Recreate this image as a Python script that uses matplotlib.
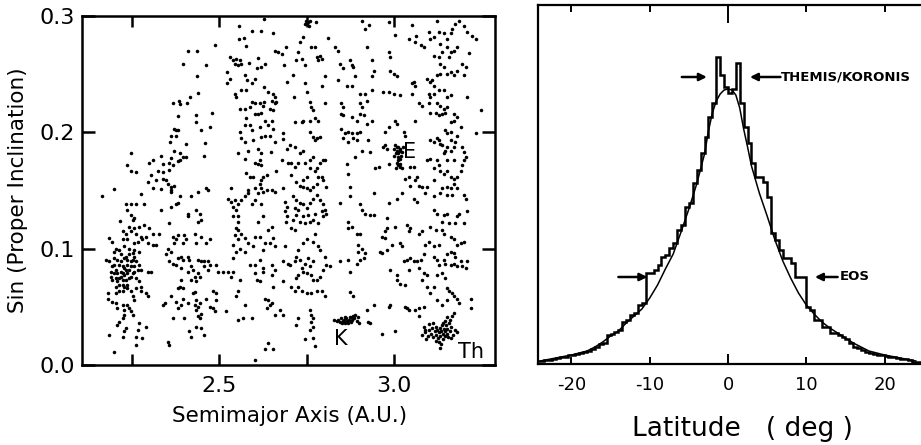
import numpy as np
import matplotlib
matplotlib.use("Agg")
import matplotlib.pyplot as plt

plt.rcParams['font.family'] = ['DejaVu Sans']

# ---------------- data: left panel (semimajor axis, sin i) ----------------
field_upper_inner = [
(2.628,0.297),(2.556,0.291),(2.592,0.287),(2.620,0.287),(2.654,0.285),(2.569,0.281),(2.556,0.280),
(2.488,0.275),(2.577,0.274),(2.435,0.270),(2.411,0.270),(2.659,0.270),(2.668,0.269),(2.678,0.267),
(2.689,0.273),(2.531,0.265),(2.539,0.262),(2.548,0.263),(2.544,0.259),(2.553,0.258),(2.563,0.259),
(2.558,0.262),(2.609,0.264),(2.585,0.260),(2.630,0.259),(2.620,0.256),(2.606,0.255),(2.395,0.259),
(2.463,0.258),(2.684,0.258),(2.522,0.252),(2.436,0.248),(2.572,0.249),(2.579,0.245),(2.592,0.242),
(2.601,0.246),(2.522,0.242),(2.529,0.246),(2.628,0.239),(2.692,0.243),(2.639,0.235),(2.654,0.233),
(2.659,0.230),(2.663,0.226),(2.544,0.233),(2.548,0.230),(2.563,0.236),(2.577,0.236),(2.440,0.234),
(2.417,0.230),(2.408,0.225),(2.366,0.225),(2.383,0.227),(2.386,0.224),(2.594,0.226),(2.601,0.225),
(2.616,0.225),(2.628,0.226),(2.625,0.223),(2.649,0.227),(2.659,0.225),(2.558,0.220),(2.572,0.220),
(2.587,0.222),(2.611,0.216),(2.620,0.217),(2.644,0.220),(2.654,0.219),(2.601,0.216),(2.381,0.214),
(2.434,0.215),(2.479,0.217),(2.434,0.209),(2.577,0.212),(2.587,0.206),(2.572,0.206),(2.630,0.210),
(2.649,0.210),(2.639,0.206),(2.654,0.203),(2.371,0.203),(2.376,0.202),(2.381,0.202),(2.448,0.202),
(2.472,0.205),(2.558,0.200),(2.592,0.202),(2.616,0.205),(2.630,0.197),(2.644,0.197),(2.683,0.199),
(2.362,0.197),(2.376,0.197),(2.620,0.196),(2.596,0.193),(2.572,0.192),(2.563,0.195),(2.659,0.192),
(2.683,0.194),(2.360,0.192),(2.405,0.190),(2.459,0.191),(2.553,0.182),(2.582,0.184),(2.611,0.186),
(2.620,0.182),(2.616,0.176),(2.620,0.172),(2.647,0.183),(2.692,0.186),(2.247,0.182),(2.371,0.184),
(2.386,0.182),(2.395,0.179),(2.405,0.179),(2.362,0.178),(2.333,0.180),(2.457,0.180),(2.572,0.177),
(2.601,0.174),(2.611,0.173),(2.678,0.176),(2.697,0.174),(2.237,0.172),(2.299,0.174),(2.309,0.176),
(2.338,0.173),(2.357,0.174),(2.381,0.175),(2.386,0.176),(2.247,0.167),(2.261,0.166),(2.323,0.167),
(2.338,0.166),(2.357,0.168),(2.366,0.172),(2.663,0.167),(2.577,0.165),(2.587,0.162),(2.596,0.162),
(2.625,0.162),(2.635,0.163),(2.620,0.159),(2.304,0.163),(2.319,0.159),(2.338,0.160),(2.347,0.159),
(2.352,0.156),(2.362,0.153),(2.371,0.154),(2.295,0.157),(2.199,0.151),(2.309,0.152),(2.333,0.151),
(2.362,0.150),(2.462,0.152),(2.467,0.150),(2.534,0.152),(2.582,0.150),(2.601,0.152),(2.620,0.152),
(2.635,0.150),(2.649,0.150),(2.683,0.152),(2.616,0.156),
]

field_upper_outer = [
(2.747,0.296),(2.754,0.295),(2.751,0.293),(2.757,0.291),(2.744,0.293),(2.758,0.296),(2.776,0.295),
(2.907,0.296),(2.917,0.289),(2.928,0.292),(2.984,0.295),(3.003,0.284),(3.051,0.292),(3.043,0.280),
(3.063,0.283),(3.060,0.278),(3.075,0.275),(3.084,0.273),(3.099,0.286),(3.103,0.280),(3.113,0.282),
(3.123,0.296),(3.127,0.286),(3.142,0.285),(3.151,0.280),(3.161,0.285),(3.166,0.289),(3.175,0.293),
(3.185,0.296),(3.199,0.291),(3.209,0.286),(3.223,0.283),(3.233,0.280),(3.180,0.273),(3.151,0.273),
(3.132,0.276),(3.170,0.270),(2.739,0.282),(2.730,0.278),(2.811,0.281),(2.830,0.273),(2.840,0.270),
(2.773,0.273),(2.763,0.273),(2.725,0.269),(2.720,0.262),(2.735,0.263),(2.744,0.258),(2.778,0.265),
(2.787,0.266),(2.782,0.262),(2.792,0.263),(2.845,0.259),(2.854,0.255),(2.873,0.262),(2.878,0.258),
(2.883,0.256),(2.921,0.273),(2.936,0.262),(2.984,0.269),(2.988,0.265),(2.988,0.253),(2.998,0.250),
(3.008,0.248),(2.941,0.253),(2.936,0.248),(2.888,0.248),(2.878,0.240),(2.864,0.240),(2.840,0.245),
(2.802,0.248),(2.792,0.240),(2.744,0.242),(2.711,0.249),(2.749,0.235),(2.712,0.230),(2.758,0.226),
(2.763,0.222),(2.768,0.219),(2.802,0.225),(2.849,0.225),(2.854,0.222),(2.902,0.225),(2.907,0.222),
(2.921,0.227),(2.936,0.236),(2.917,0.233),(2.902,0.233),(2.969,0.235),(2.984,0.235),(2.998,0.233),
(3.017,0.232),(2.849,0.216),(2.854,0.215),(2.902,0.216),(2.912,0.215),(2.921,0.207),(2.936,0.210),
(2.893,0.210),(2.878,0.213),(2.715,0.209),(2.735,0.209),(2.739,0.210),(2.758,0.210),(2.773,0.212),
(2.782,0.210),(3.060,0.210),(3.070,0.225),(3.055,0.243),(3.051,0.242),(3.060,0.240),(3.094,0.246),
(3.103,0.243),(3.108,0.245),(3.113,0.240),(3.123,0.249),(3.132,0.250),(3.151,0.250),(3.161,0.252),
(3.170,0.249),(3.180,0.253),(3.199,0.249),(3.194,0.259),(3.204,0.256),(3.214,0.268),(3.132,0.259),
(3.142,0.256),(3.156,0.265),(3.161,0.269),(3.113,0.266),(3.127,0.265),(3.137,0.269),(3.051,0.233),
(3.099,0.233),(3.103,0.230),(3.113,0.233),(3.127,0.236),(3.142,0.236),(3.151,0.230),(3.161,0.232),
(3.123,0.225),(3.132,0.223),(3.142,0.220),(3.151,0.222),(3.146,0.217),(3.137,0.216),(3.127,0.215),
(3.118,0.217),(3.103,0.217),(3.170,0.216),(3.180,0.213),(3.190,0.205),(3.209,0.230),(3.099,0.225),
(3.079,0.223),(3.170,0.210),(3.161,0.209),(3.233,0.199),(3.247,0.219),(2.758,0.200),(2.768,0.196),
(2.773,0.193),(2.778,0.195),(2.787,0.196),(2.701,0.189),(2.715,0.187),(2.730,0.182),(2.739,0.184),
(2.725,0.174),(2.744,0.174),(2.758,0.176),(2.768,0.179),(2.787,0.174),(2.797,0.176),(2.802,0.176),
(2.758,0.169),(2.773,0.167),(2.778,0.169),(2.782,0.162),(2.792,0.162),(2.797,0.159),(2.749,0.162),
(2.739,0.159),(2.720,0.157),(2.715,0.170),(2.706,0.174),(2.706,0.163),(2.730,0.154),(2.739,0.153),
(2.749,0.152),(2.758,0.150),(2.768,0.153),(2.778,0.156),(2.806,0.153),(2.849,0.203),(2.859,0.199),
(2.869,0.200),(2.878,0.199),(2.883,0.195),(2.893,0.199),(2.902,0.200),(2.893,0.193),(2.869,0.192),
(2.854,0.195),(2.926,0.193),(2.931,0.183),(2.907,0.184),(2.888,0.179),(2.864,0.173),(2.869,0.164),
(2.873,0.153),(2.945,0.169),(2.955,0.170),(2.974,0.189),(2.979,0.186),(2.969,0.187),(2.974,0.200),
(2.984,0.205),(3.003,0.210),(3.008,0.207),(3.027,0.200),(3.032,0.197),(2.984,0.173),(3.046,0.170),
(3.055,0.170),(3.041,0.162),(3.032,0.160),(3.046,0.154),(3.060,0.159),(3.070,0.154),(3.079,0.153),
(3.094,0.153),(3.113,0.159),(3.094,0.176),(3.103,0.177),(3.123,0.176),(3.127,0.172),(3.132,0.167),
(3.142,0.164),(3.151,0.167),(3.161,0.162),(3.170,0.160),(3.180,0.162),(3.190,0.167),(3.194,0.172),
(3.199,0.176),(3.204,0.179),(3.170,0.176),(3.151,0.176),(3.142,0.182),(3.146,0.184),(3.151,0.187),
(3.161,0.184),(3.170,0.187),(3.175,0.192),(3.161,0.193),(3.151,0.199),(3.146,0.202),(3.161,0.200),
(3.180,0.197),(3.127,0.193),(3.132,0.190),(3.123,0.195),(3.113,0.192),(3.103,0.193),(3.137,0.189),
(3.194,0.187),(3.199,0.183),(3.151,0.153),(3.161,0.152),(3.180,0.152),(3.170,0.156),(3.137,0.152),
(3.065,0.162),(3.113,0.169),
]

field_lower_inner = [
(2.165,0.145),(2.275,0.147),(2.362,0.149),(2.386,0.145),(2.419,0.145),(2.438,0.149),(2.525,0.143),
(2.534,0.140),(2.544,0.142),(2.553,0.138),(2.563,0.142),(2.572,0.145),(2.582,0.148),(2.592,0.138),
(2.601,0.142),(2.611,0.148),(2.625,0.149),(2.620,0.138),(2.659,0.149),(2.687,0.140),(2.692,0.136),
(2.687,0.132),(2.692,0.128),(2.689,0.123),(2.232,0.138),(2.247,0.138),(2.261,0.138),(2.285,0.138),
(2.237,0.133),(2.247,0.129),(2.252,0.125),(2.256,0.126),(2.216,0.124),(2.242,0.119),(2.256,0.118),
(2.271,0.119),(2.285,0.120),(2.299,0.118),(2.223,0.115),(2.232,0.113),(2.247,0.115),(2.261,0.113),
(2.275,0.110),(2.290,0.110),(2.309,0.113),(2.328,0.113),(2.223,0.108),(2.237,0.108),(2.256,0.105),
(2.266,0.106),(2.280,0.108),(2.295,0.105),(2.309,0.103),(2.319,0.103),(2.184,0.109),(2.194,0.106),
(2.204,0.100),(2.199,0.097),(2.213,0.099),(2.228,0.102),(2.242,0.100),(2.256,0.099),(2.271,0.097),
(2.175,0.090),(2.184,0.089),(2.194,0.085),(2.189,0.080),(2.199,0.079),(2.204,0.075),(2.208,0.072),
(2.218,0.076),(2.223,0.079),(2.228,0.083),(2.237,0.086),(2.247,0.089),(2.252,0.090),(2.242,0.082),
(2.256,0.080),(2.247,0.076),(2.232,0.073),(2.223,0.069),(2.237,0.069),(2.247,0.064),(2.213,0.064),
(2.204,0.062),(2.223,0.064),(2.199,0.092),(2.208,0.090),(2.218,0.089),(2.228,0.092),(2.237,0.090),
(2.213,0.086),(2.223,0.085),(2.232,0.082),(2.204,0.082),(2.208,0.079),(2.218,0.080),(2.228,0.077),
(2.237,0.079),(2.213,0.075),(2.223,0.073),(2.242,0.075),(2.199,0.086),(2.247,0.085),(2.252,0.079),
(2.237,0.066),(2.228,0.067),(2.213,0.069),(2.204,0.067),(2.194,0.073),(2.189,0.076),(2.232,0.093),
(2.242,0.095),(2.252,0.096),(2.256,0.093),(2.218,0.095),(2.261,0.089),(2.256,0.085),(2.266,0.082),
(2.271,0.086),(2.275,0.082),(2.295,0.080),(2.304,0.080),(2.261,0.075),(2.271,0.072),(2.275,0.067),
(2.261,0.066),(2.252,0.059),(2.256,0.056),(2.275,0.064),(2.290,0.062),(2.295,0.059),(2.180,0.062),
(2.180,0.057),(2.194,0.054),(2.204,0.053),(2.208,0.049),(2.223,0.052),(2.228,0.047),(2.237,0.052),
(2.242,0.049),(2.247,0.046),(2.252,0.043),(2.228,0.043),(2.223,0.040),(2.213,0.037),(2.208,0.034),
(2.232,0.032),(2.228,0.029),(2.223,0.024),(2.184,0.026),(2.261,0.024),(2.261,0.017),(2.266,0.030),
(2.280,0.023),(2.290,0.033),(2.271,0.036),(2.199,0.011),(2.352,0.020),(2.357,0.017),(2.333,0.133),
(2.357,0.122),(2.362,0.136),(2.376,0.138),(2.381,0.139),(2.410,0.128),(2.410,0.130),(2.434,0.133),
(2.443,0.130),(2.438,0.123),(2.448,0.125),(2.366,0.110),(2.376,0.108),(2.371,0.105),(2.381,0.112),
(2.400,0.112),(2.405,0.108),(2.395,0.105),(2.429,0.113),(2.448,0.110),(2.434,0.105),(2.462,0.105),
(2.472,0.108),(2.352,0.100),(2.362,0.097),(2.347,0.095),(2.357,0.089),(2.366,0.087),(2.376,0.086),
(2.381,0.092),(2.390,0.093),(2.395,0.090),(2.410,0.093),(2.414,0.090),(2.419,0.085),(2.424,0.082),
(2.410,0.080),(2.390,0.083),(2.438,0.090),(2.448,0.089),(2.457,0.089),(2.467,0.089),(2.472,0.086),
(2.457,0.085),(2.443,0.076),(2.429,0.076),(2.419,0.073),(2.434,0.072),(2.438,0.079),(2.467,0.082),
(2.491,0.086),(2.496,0.080),(2.510,0.080),(2.525,0.080),(2.539,0.080),(2.534,0.076),(2.520,0.046),
(2.390,0.073),(2.386,0.067),(2.381,0.066),(2.395,0.066),(2.362,0.059),(2.395,0.057),(2.376,0.054),
(2.381,0.049),(2.390,0.052),(2.410,0.053),(2.424,0.062),(2.429,0.063),(2.434,0.056),(2.429,0.052),
(2.438,0.050),(2.443,0.053),(2.434,0.047),(2.438,0.042),(2.448,0.044),(2.462,0.057),(2.472,0.050),
(2.481,0.049),(2.486,0.046),(2.491,0.062),(2.491,0.056),(2.481,0.064),(2.366,0.040),(2.400,0.040),
(2.414,0.029),(2.419,0.024),(2.434,0.033),(2.443,0.040),(2.457,0.026),(2.448,0.032),(2.343,0.053),
(2.338,0.052),(2.539,0.136),(2.548,0.133),(2.553,0.128),(2.539,0.128),(2.553,0.123),(2.548,0.118),
(2.553,0.116),(2.544,0.112),(2.553,0.108),(2.563,0.113),(2.572,0.109),(2.558,0.100),(2.572,0.097),
(2.582,0.105),(2.596,0.102),(2.539,0.103),(2.548,0.097),(2.539,0.092),(2.601,0.110),(2.611,0.123),
(2.625,0.128),(2.616,0.110),(2.639,0.116),(2.649,0.119),(2.654,0.109),(2.659,0.102),(2.644,0.105),
(2.630,0.105),(2.625,0.099),(2.587,0.086),(2.601,0.086),(2.616,0.090),(2.625,0.083),(2.606,0.073),
(2.616,0.072),(2.558,0.073),(2.601,0.079),(2.625,0.080),(2.649,0.086),(2.649,0.077),(2.654,0.067),
(2.659,0.082),(2.683,0.089),(2.687,0.102),(2.697,0.087),(2.702,0.086),(2.683,0.072),(2.553,0.064),
(2.548,0.059),(2.572,0.052),(2.568,0.040),(2.553,0.039),(2.592,0.040),(2.630,0.057),(2.639,0.056),
(2.649,0.053),(2.644,0.052),(2.635,0.049),(2.659,0.043),(2.673,0.047),(2.683,0.043),(2.630,0.014),
(2.639,0.019),(2.654,0.014),(2.601,0.004),
]

field_lower_outer = [
(2.711,0.145),(2.720,0.142),(2.730,0.139),(2.739,0.138),(2.715,0.135),(2.725,0.133),(2.749,0.135),
(2.758,0.139),(2.768,0.143),(2.778,0.146),(2.787,0.142),(2.797,0.138),(2.802,0.133),(2.792,0.132),
(2.773,0.130),(2.754,0.129),(2.739,0.128),(2.720,0.129),(2.711,0.125),(2.730,0.123),(2.744,0.122),
(2.758,0.123),(2.768,0.125),(2.782,0.122),(2.797,0.128),(2.806,0.130),(2.706,0.118),(2.715,0.116),
(2.749,0.108),(2.739,0.105),(2.725,0.099),(2.773,0.113),(2.768,0.106),(2.782,0.102),(2.787,0.099),
(2.720,0.093),(2.715,0.089),(2.730,0.090),(2.744,0.087),(2.754,0.092),(2.768,0.089),(2.758,0.085),
(2.735,0.083),(2.739,0.080),(2.749,0.079),(2.725,0.077),(2.720,0.075),(2.763,0.077),(2.768,0.073),
(2.778,0.073),(2.787,0.076),(2.797,0.082),(2.806,0.086),(2.802,0.093),(2.715,0.064),(2.706,0.067),
(2.725,0.067),(2.735,0.064),(2.749,0.062),(2.763,0.062),(2.778,0.064),(2.792,0.064),(2.802,0.059),
(2.816,0.085),(2.845,0.139),(2.873,0.145),(2.902,0.138),(2.907,0.133),(2.917,0.130),(2.931,0.129),
(2.941,0.129),(2.941,0.148),(2.984,0.139),(2.979,0.126),(3.008,0.143),(3.022,0.148),(3.055,0.143),
(3.065,0.140),(3.089,0.148),(3.113,0.145),(3.132,0.148),(3.151,0.146),(3.166,0.146),(3.199,0.146),
(3.204,0.143),(3.113,0.133),(3.123,0.130),(3.142,0.129),(3.151,0.130),(3.137,0.123),(3.156,0.122),
(3.175,0.122),(3.180,0.128),(3.185,0.130),(3.199,0.122),(3.209,0.132),(2.869,0.123),(2.878,0.119),
(2.869,0.118),(2.893,0.113),(2.902,0.113),(2.979,0.118),(2.974,0.115),(2.964,0.110),(3.003,0.119),
(3.017,0.105),(3.022,0.102),(2.974,0.109),(3.036,0.120),(3.041,0.115),(3.046,0.118),(3.070,0.113),
(3.079,0.115),(3.089,0.103),(3.099,0.106),(3.103,0.119),(3.118,0.116),(3.137,0.116),(3.142,0.113),
(3.161,0.110),(3.170,0.108),(3.180,0.103),(3.190,0.105),(3.199,0.106),(3.127,0.103),(3.113,0.102),
(2.897,0.103),(2.907,0.100),(2.897,0.097),(2.902,0.090),(2.893,0.087),(2.873,0.080),(2.845,0.089),
(2.869,0.090),(2.912,0.092),(2.917,0.096),(2.979,0.099),(2.960,0.097),(2.993,0.103),(2.964,0.096),
(2.988,0.082),(3.008,0.077),(3.008,0.073),(3.017,0.070),(3.032,0.069),(3.041,0.082),(3.027,0.089),
(3.036,0.090),(3.046,0.092),(3.055,0.089),(3.065,0.089),(3.075,0.090),(3.084,0.095),(3.070,0.083),
(3.084,0.079),(3.079,0.073),(3.094,0.077),(3.094,0.067),(3.113,0.093),(3.123,0.090),(3.127,0.086),
(3.142,0.090),(3.146,0.087),(3.151,0.095),(3.161,0.097),(3.170,0.096),(3.175,0.093),(3.180,0.085),
(3.190,0.089),(3.194,0.085),(3.204,0.083),(3.209,0.089),(3.161,0.086),(3.170,0.087),(3.123,0.077),
(3.137,0.079),(3.146,0.075),(3.151,0.066),(3.156,0.064),(3.166,0.062),(3.170,0.059),(3.151,0.056),
(3.180,0.057),(3.185,0.053),(3.113,0.067),(3.103,0.062),(3.123,0.056),(3.137,0.052),(3.218,0.057),
(3.218,0.049),(2.873,0.063),(2.883,0.059),(2.758,0.047),(2.763,0.043),(2.768,0.040),(2.763,0.037),
(2.768,0.033),(2.758,0.030),(2.725,0.040),(2.720,0.034),(2.744,0.022),(2.768,0.023),(2.773,0.016),
(2.921,0.047),(2.941,0.052),(2.931,0.036),(2.984,0.050),(2.988,0.052),(2.964,0.027),(3.003,0.029),
(3.032,0.050),(3.036,0.049),(3.041,0.047),(3.060,0.047),(3.070,0.049),(3.084,0.050),(3.070,0.042),
(3.084,0.033),(3.089,0.030),(2.926,0.037),
]

eos_family = [
(3.003,0.189),(3.008,0.187),(3.012,0.187),(3.017,0.186),(3.008,0.184),(3.015,0.184),(3.022,0.183),
(3.006,0.182),(3.012,0.182),(3.019,0.180),(3.011,0.179),(3.017,0.177),(3.012,0.176),(3.008,0.174),
(3.015,0.173),(3.011,0.172),(3.017,0.170),(3.006,0.169),(3.022,0.169),(3.000,0.186),(3.025,0.187),
(2.998,0.180),
]

koronis_family = [
(2.828,0.039),(2.835,0.038),(2.840,0.039),(2.845,0.037),(2.848,0.040),(2.852,0.038),(2.856,0.039),
(2.860,0.036),(2.862,0.040),(2.866,0.038),(2.870,0.039),(2.872,0.041),(2.876,0.037),(2.880,0.039),
(2.883,0.042),(2.886,0.040),(2.889,0.043),(2.892,0.038),(2.895,0.041),(2.899,0.036),(2.858,0.041),
(2.868,0.036),(2.850,0.036),(2.878,0.041),
]

themis_family = [
(3.080,0.026),(3.088,0.028),(3.095,0.025),(3.100,0.030),(3.105,0.027),(3.108,0.032),(3.112,0.024),
(3.115,0.029),(3.118,0.033),(3.120,0.026),(3.122,0.030),(3.125,0.023),(3.127,0.028),(3.130,0.032),
(3.132,0.025),(3.134,0.029),(3.136,0.034),(3.138,0.022),(3.140,0.027),(3.142,0.031),(3.144,0.025),
(3.146,0.029),(3.148,0.034),(3.150,0.027),(3.152,0.031),(3.154,0.024),(3.156,0.036),(3.158,0.029),
(3.160,0.039),(3.163,0.033),(3.166,0.042),(3.170,0.045),(3.135,0.018),(3.132,0.015),(3.128,0.020),
(3.110,0.036),(3.100,0.035),(3.145,0.038),(3.150,0.041),(3.175,0.030),(3.180,0.028),(3.168,0.026),
(3.092,0.022),(3.118,0.021),(3.140,0.036),(3.162,0.023),
]

# ---------------- data: right panel (latitude histogram) ----------------
lat_bin_edges = list(np.arange(-24.5, 24.51, 0.5))
lat_counts = [
 4, 4, 5, 5, 6, 7, 8, 8, 10, 10,            # -24.5 .. -19.5
 11, 12, 13, 14, 16, 18, 21, 22, 30, 31,    # -19.5 .. -14.5
 33, 35, 43, 45, 50, 52, 60, 62, 92, 92,    # -14.5 .. -9.5
 95, 100, 108, 110, 117, 122, 135, 140, 158, 162,  # -9.5 .. -4.5
 182, 195, 212, 228, 248, 262, 308, 290, 278, 272, # -4.5 .. 0.5
 276, 302, 262, 238, 222, 202, 188, 188, 183, 168, # 0.5 .. 5.5
 132, 125, 115, 107, 107, 102, 88, 88, 88, 58,     # 5.5 .. 10.5
 55, 45, 45, 38, 38, 32, 32, 30, 28, 26,           # 10.5 .. 15.5
 22, 18, 17, 15, 13, 12, 11, 10, 10, 9,            # 15.5 .. 20.5
 8, 8, 7, 6, 6, 5, 3, 3,                           # 20.5 .. 24.5
]

model_lat = [-24, -22, -20, -18, -17, -16, -15, -14, -13, -12, -11, -10, -9, -8, -7, -6, -5, -4, -3,
             -2.5, -2, -1.5, -1, -0.5, 0, 0.5, 1, 1.5, 2, 2.5, 3, 4, 5, 6, 7, 8, 9, 10, 11, 12,
             13, 14, 15, 16, 18, 20, 22, 24]
model_counts = [4, 7, 10, 14, 18, 23, 29, 34, 42, 49, 56, 67, 80, 96, 111, 133, 156, 181, 211,
                234, 252, 264, 271, 275, 276, 275, 270, 257, 236, 218, 199, 172, 149, 125, 104, 87, 72, 60, 51, 43,
                37, 32, 27, 22, 14, 10, 7, 4]

# ---------------- figure ----------------
fig = plt.figure(figsize=(9.21, 4.45), dpi=100)
W, H = 921.0, 445.0

axL = fig.add_axes([82 / W, (H - 365) / H, 413 / W, 349 / H])
for group in (field_upper_inner, field_upper_outer, field_lower_inner, field_lower_outer,
              eos_family, koronis_family, themis_family):
    arr = np.array(group)
    axL.scatter(arr[:, 0], arr[:, 1], s=6.5, c='black', linewidths=0)

axL.set_xlim(2.107, 3.288)
axL.set_ylim(0.0, 0.3)
axL.set_xticks([2.25, 2.5, 2.75, 3.0])
axL.set_xticklabels(['', '2.5', '', '3.0'])
axL.set_yticks([0.0, 0.1, 0.2, 0.3])
axL.set_yticklabels(['0.0', '0.1', '0.2', '0.3'])
axL.tick_params(axis='both', direction='in', top=True, right=True, width=1.8,
                labelsize=16, colors='black')
axL.tick_params(axis='x', length=8, pad=8)
axL.tick_params(axis='y', length=9.5, pad=5)
for sp in axL.spines.values():
    sp.set_linewidth(1.8)

axL.text(3.045, 0.183, 'E', fontsize=15, ha='center', va='center')
axL.text(2.846, 0.022, 'K', fontsize=15, ha='center', va='center')
axL.text(3.220, 0.011, 'Th', fontsize=15, ha='center', va='center')

fig.text(290 / W, 1 - 416 / H, 'Semimajor Axis (A.U.)', fontsize=15.5, ha='center', va='center')
fig.text(18 / W, 1 - 190 / H, 'Sin (Proper Inclination)', fontsize=15.5, ha='center', va='center',
         rotation=90)

# right panel
axR = fig.add_axes([538 / W, (H - 364) / H, 384 / W, 359 / H])
axR.stairs(lat_counts, lat_bin_edges, color='black', linewidth=1.8)
axR.plot(model_lat, model_counts, color='black', linewidth=1.1)
axR.set_xlim(-24.27, 24.78)
axR.set_ylim(1, 360)
axR.set_yticks([])
axR.set_xticks([-20, -10, 0, 10, 20])
axR.set_xticklabels(['-20', '-10', '0', '10', '20'])
axR.tick_params(axis='x', direction='in', top=True, length=5, width=1.4, labelsize=13, pad=9)
for sp in axR.spines.values():
    sp.set_linewidth(1.6)
zt = axR.xaxis.get_major_ticks()[2]
zt.tick2line.set_markersize(13)
zt.tick1line.set_markersize(7)

arrow_kw = dict(arrowstyle='-|>', color='black', lw=1.8, mutation_scale=11, shrinkA=0, shrinkB=0)
axR.annotate('', xy=(-2.7, 288), xytext=(-5.9, 288), arrowprops=arrow_kw)
axR.annotate('', xy=(2.8, 288), xytext=(6.7, 288), arrowprops=arrow_kw)
axR.text(6.8, 288, 'THEMIS/KORONIS', fontsize=9.5, fontweight='bold', ha='left', va='center')
axR.annotate('', xy=(-10.3, 88), xytext=(-14.0, 88), arrowprops=arrow_kw)
axR.annotate('', xy=(11.1, 88), xytext=(14.0, 88), arrowprops=arrow_kw)
axR.text(14.3, 88, 'EOS', fontsize=9.5, fontweight='bold', ha='left', va='center')

fig.text(742 / W, 1 - 429 / H, 'Latitude   ( deg )', fontsize=19, ha='center', va='center')

fig.savefig('out.png', dpi=100)
